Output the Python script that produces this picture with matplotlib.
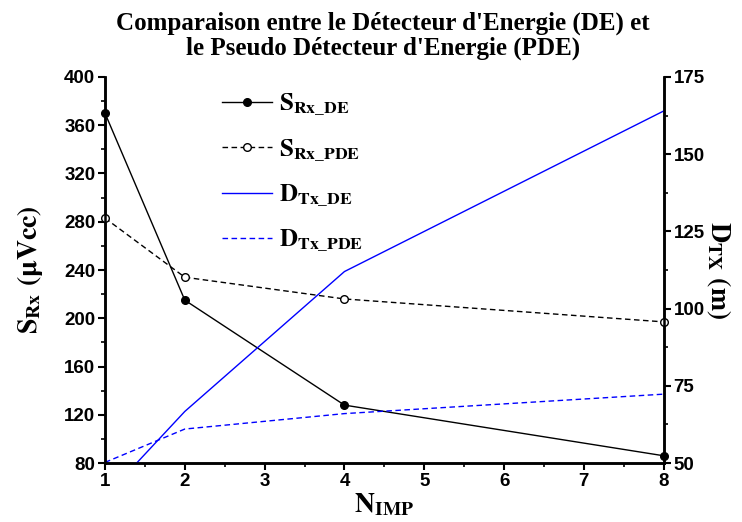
import matplotlib
matplotlib.use('Agg')
import matplotlib.pyplot as plt
import numpy as np

# Data
n_imp = [1, 2, 4, 8]
s_rx_de = [370, 215, 128, 86]
s_rx_pde = [283, 234, 216, 197]
d_tx_de = [39, 66.7, 112, 164]
d_tx_pde = [50.2, 61, 66, 72.3]

x_ticks = [1, 2, 3, 4, 5, 6, 7, 8]
left_ticks = [80, 120, 160, 200, 240, 280, 320, 360, 400]
right_ticks = [50, 75, 100, 125, 150, 175]

plt.rcParams['mathtext.fontset'] = 'stix'
plt.rcParams['font.family'] = 'Liberation Sans'
plt.rcParams['font.weight'] = 'bold'

fig = plt.figure(figsize=(7.42, 5.22), dpi=100)
ax = fig.add_axes([0.1415, 0.113, 0.753, 0.7395])
ax2 = ax.twinx()

l1, = ax.plot(n_imp, s_rx_de, color='black', lw=1, marker='o', ms=5.5,
              mfc='black', mec='black', label=r'$\mathbf{S}_{\mathbf{Rx\_DE}}$', clip_on=False, zorder=3)
l2, = ax.plot(n_imp, s_rx_pde, color='black', lw=1, ls=(0, (4, 2.5)), marker='o', ms=5.5,
              mfc='white', mec='black', label=r'$\mathbf{S}_{\mathbf{Rx\_PDE}}$', clip_on=False, zorder=3)
l3, = ax2.plot(n_imp, d_tx_de, color='#0000ff', lw=1, label=r'$\mathbf{D}_{\mathbf{Tx\_DE}}$')
l4, = ax2.plot(n_imp, d_tx_pde, color='#0000ff', lw=1, ls=(0, (4, 2.5)),
               label=r'$\mathbf{D}_{\mathbf{Tx\_PDE}}$')

ax.set_xlim(1, 8)
ax.set_ylim(80, 400)
ax2.set_ylim(50, 175)
ax.set_xticks(x_ticks)
ax.set_yticks(left_ticks)
ax2.set_yticks(right_ticks)
ax.set_xticks(np.arange(1.5, 8, 1), minor=True)
ax.set_yticks(np.arange(100, 400, 40), minor=True)
ax2.set_yticks(np.arange(62.5, 175, 25), minor=True)

for a in (ax, ax2):
    a.spines['top'].set_visible(False)
    for s in ('left', 'right', 'bottom'):
        a.spines[s].set_linewidth(1.8)
    a.tick_params(which='major', length=5, width=1.5, labelsize=13.5, pad=2)
    a.tick_params(which='minor', length=3, width=1.2)

ax.set_xlabel(r'$\mathbf{N}_{\mathbf{IMP}}$', fontsize=20)
ax.xaxis.set_label_coords(0.5, -0.072)
ax.set_ylabel(r'$\mathbf{S}_{\mathbf{Rx}}\ \mathbf{(\mu Vcc)}$', fontsize=20, labelpad=14)
ax2.set_ylabel(r'$\mathbf{D}_{\mathbf{TX}}\ \mathbf{(m)}$', fontsize=20, rotation=270, labelpad=20)

fig.suptitle("Comparaison entre le Détecteur d'Energie (DE) et\nle Pseudo Détecteur d'Energie (PDE)",
             fontsize=18, fontweight='bold', family='Liberation Serif', y=0.978, x=0.516,
             linespacing=1.1)

ax.legend(handles=[l1, l2, l3, l4], loc='upper left', bbox_to_anchor=(0.17, 1.02),
          frameon=False, fontsize=18, handlelength=2.0, handletextpad=0.25, labelspacing=0.75)

fig.savefig('out.png', dpi=100)
